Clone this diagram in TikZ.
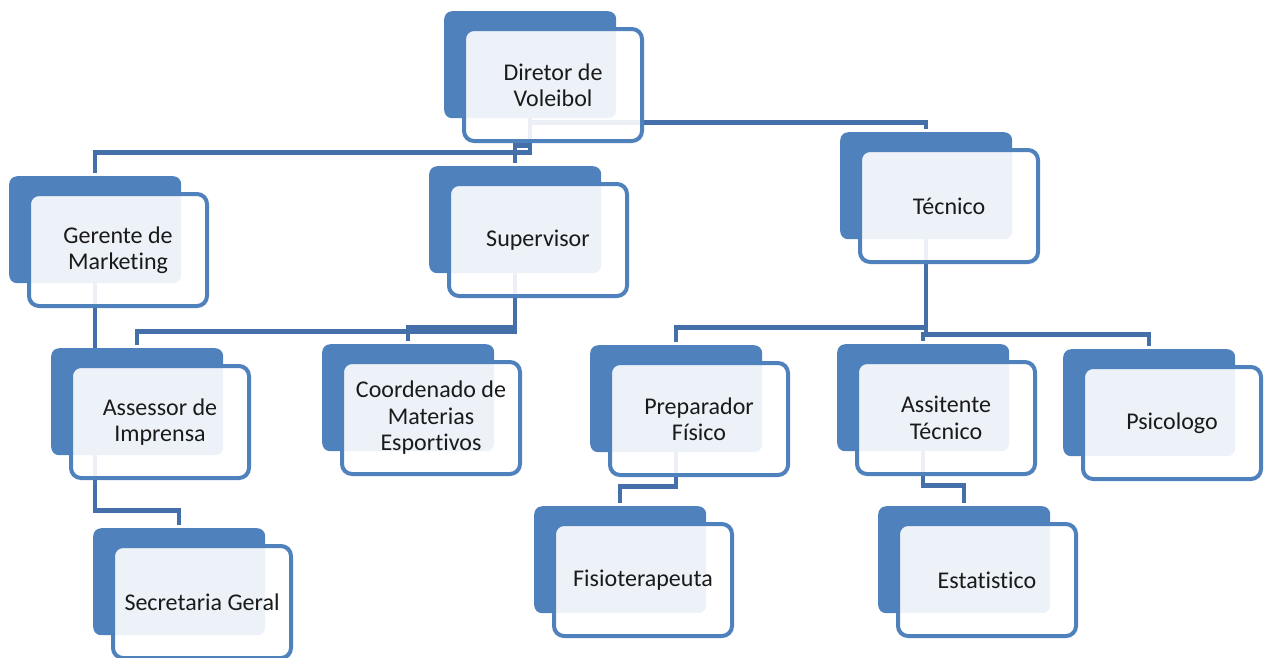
\documentclass[tikz,border=0pt]{standalone}
\usepackage{fontspec}
\setmainfont{Carlito}[Ligatures=NoCommon]
\usepackage{xcolor}
\usetikzlibrary{calc,positioning}
\definecolor{orgblue}{RGB}{79,129,189}
\definecolor{connblue}{RGB}{68,111,168}
\definecolor{textgray}{RGB}{26,26,26}
\pgfdeclarelayer{background}
\pgfsetlayers{background,main}
\tikzset{
    backbox/.style={fill=orgblue, rounded corners=8pt, anchor=north west,
        minimum width=172pt, minimum height=107pt, inner sep=0pt},
    frontbox/.style={draw=orgblue, line width=4pt, fill=white, fill opacity=0.9,
        text opacity=1, rounded corners=10pt, anchor=north west,
        minimum width=178pt, minimum height=112pt, align=center,
        font=\fontsize{24}{26.5}\selectfont, text=textgray},
    conn/.style={draw=connblue, line width=4.5pt, shorten >=3pt}
}

\begin{document}
\begin{tikzpicture}[x=1pt,y=-1pt]
    \useasboundingbox (0,0) rectangle (1265,657);

    % Draw the boxes, back first then front.
    \foreach \n/\p/\t in {
        diretor/{444,11}/{Diretor de\\Voleibol},
        gerente/{9,176}/{Gerente de\\Marketing},
        supervisor/{429,166}/{Supervisor},
        tecnico/{840,132}/{Técnico},
        assessor/{51,348}/{Assessor de\\Imprensa},
        coordenado/{322,344}/{Coordenado de\\Materias\\Esportivos},
        preparador/{590,345}/{Preparador\\Físico},
        assistente/{837,344}/{Assitente\\Técnico},
        psicologo/{1063,349}/{Psicologo},
        secretaria/{93,528}/{Secretaria Geral},
        fisio/{534,506}/{Fisioterapeuta},
        estatistico/{878,506}/{Estatistico}}
    {
        \node[backbox] (\n B) at (\p) {};
        \node[frontbox] (\n) at ([shift={(18,16)}]\n B.north west) {\t};
    }

    % Draw connectors behind the boxes.
    \begin{pgfonlayer}{background}
        \draw[conn] (diretorB.south) -- ++(0,34) -| (gerenteB.north);
        \draw[conn] (diretorB.south) -- ++(0,27) -| (supervisorB.north);
        \draw[conn] (diretorB.south) -- ++(0,4) -| (tecnicoB.north);
        \draw[conn] (supervisorB.south) -- ++(0,58) -| (assessorB.north);
        \draw[conn] (supervisorB.south) -- ++(0,54) -| (coordenadoB.north);
        \draw[conn] (gerenteB.south) -- ++(0,227) -| (secretariaB.north);
        \draw[conn] (tecnicoB.south) -- ++(0,88) -| (preparadorB.north);
        \draw[conn] (tecnicoB.south) -- ++(0,95) -| (assistenteB.north);
        \draw[conn] (tecnicoB.south) -- ++(0,95) -| (psicologoB.north);
        \draw[conn] (preparadorB.south) -- ++(0,34) -| (fisioB.north);
        \draw[conn] (assistenteB.south) -- ++(0,34) -| (estatisticoB.north);
    \end{pgfonlayer}
\end{tikzpicture}
\end{document}
